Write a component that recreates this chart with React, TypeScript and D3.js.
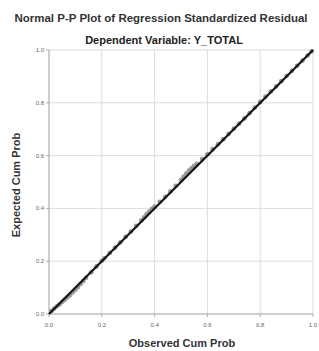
import React from "react";
import * as d3 from "d3";

const observedCumProb = [0.01,0.02,0.03,0.04,0.05,0.06,0.07,0.08,0.09,0.1,0.11,0.12,0.13,0.14,0.16,0.18,0.2,0.21,0.23,0.25,0.27,0.29,0.31,0.33,0.35,0.36,0.37,0.38,0.39,0.4,0.42,0.44,0.46,0.48,0.5,0.51,0.52,0.53,0.54,0.55,0.56,0.58,0.6,0.62,0.64,0.66,0.68,0.7,0.72,0.74,0.76,0.78,0.8,0.82,0.84,0.86,0.88,0.9,0.92,0.94,0.96,0.98,0.995];
const expectedCumProb = [0.012,0.021,0.029,0.037,0.046,0.054,0.063,0.072,0.082,0.092,0.102,0.114,0.125,0.137,0.158,0.18,0.201,0.211,0.231,0.251,0.271,0.292,0.312,0.334,0.355,0.366,0.378,0.388,0.398,0.407,0.425,0.444,0.464,0.485,0.508,0.52,0.532,0.543,0.552,0.561,0.569,0.587,0.605,0.624,0.643,0.662,0.682,0.702,0.721,0.741,0.761,0.782,0.803,0.823,0.843,0.862,0.882,0.902,0.921,0.94,0.96,0.98,0.995];
const tickValues = [0, 0.2, 0.4, 0.6, 0.8, 1.0];
const titleText = "Normal P-P Plot of Regression Standardized Residual";
const subtitleText = "Dependent Variable: Y_TOTAL";
const xLabel = "Observed Cum Prob";
const yLabel = "Expected Cum Prob";

const W = 319, H = 351;
const left = 49, right = 313, top = 50, bottom = 314;

export default function App() {
  const x = d3.scaleLinear().domain([0, 1]).range([left, right]);
  const y = d3.scaleLinear().domain([0, 1]).range([bottom, top]);
  const fmt = d3.format(".1f");
  const font = "'Liberation Sans', Arial, sans-serif";
  const line = d3.line<number>().x((d) => x(d)).y((d) => y(d));
  return (
    <svg width={W} height={H} style={{ position: "absolute", left: 0, top: 0, background: "#fff" }} fontFamily={font}>
      <text x={161} y={22} textAnchor="middle" fontSize={11.5} fontWeight="bold" fill="#333">{titleText}</text>
      <text x={164} y={44} textAnchor="middle" fontSize={11} fontWeight="bold" fill="#222">{subtitleText}</text>
      {tickValues.map((t) => (
        <g key={"g" + t}>
          <line x1={x(t)} x2={x(t)} y1={top} y2={bottom} stroke="#dcdcdc" strokeWidth={1} />
          <line x1={left} x2={right} y1={y(t)} y2={y(t)} stroke="#dcdcdc" strokeWidth={1} />
        </g>
      ))}
      <line x1={left} x2={left} y1={top} y2={bottom} stroke="#b0b0b0" />
      <line x1={left} x2={right} y1={bottom} y2={bottom} stroke="#b0b0b0" />
      {tickValues.map((t) => (
        <g key={"t" + t}>
          <line x1={left - 3} x2={left} y1={y(t)} y2={y(t)} stroke="#b0b0b0" />
          <line x1={x(t)} x2={x(t)} y1={bottom} y2={bottom + 3} stroke="#b0b0b0" />
          <text x={left - 5} y={y(t) + 2} textAnchor="end" fontSize={6} fill="#666">{fmt(t)}</text>
          <text x={x(t)} y={bottom + 13} textAnchor="middle" fontSize={6} fill="#666">{fmt(t)}</text>
        </g>
      ))}
      {observedCumProb.map((o, i) => (
        <circle key={"p" + i} cx={x(o)} cy={y(expectedCumProb[i])} r={2.4} fill="#8a8a8a" fillOpacity={0.85} stroke="none" />
      ))}
      <path d={line([0, 1]) || ""} stroke="#111" strokeWidth={2.2} fill="none" />
      <text transform={`translate(20,185) rotate(-90)`} textAnchor="middle" fontSize={11} fontWeight="bold" fill="#333">{yLabel}</text>
      <text x={182} y={347} textAnchor="middle" fontSize={11} fontWeight="bold" fill="#333">{xLabel}</text>
    </svg>
  );
}
